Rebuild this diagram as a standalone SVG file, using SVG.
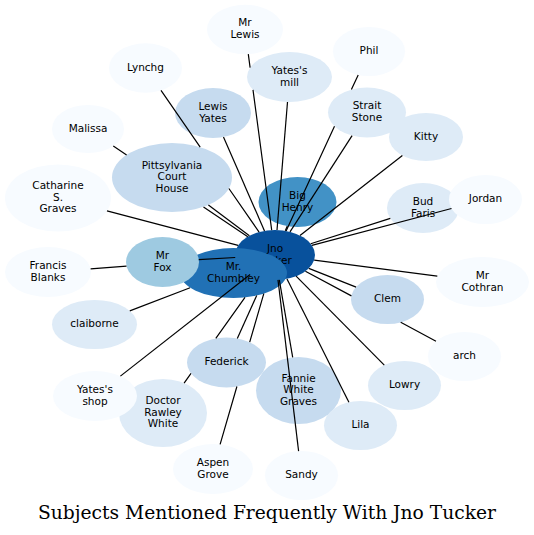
<svg xmlns="http://www.w3.org/2000/svg" width="534" height="535" viewBox="0 0 534 535">
<style>
  .node text { font-family: "DejaVu Sans", sans-serif; font-size: 10.5px; fill: #000; text-anchor: middle; }
  .c0 { fill: #f7fbff; }
  .c1 { fill: #deebf7; }
  .c2 { fill: #c6dbef; }
  .c3 { fill: #9ecae1; }
  .c4 { fill: #4292c6; }
  .c5 { fill: #2171b5; }
  .c6 { fill: #08519c; }
  #connectors path { fill: none; stroke: #000; stroke-width: 1.2; }
  .title { font-family: "DejaVu Serif", serif; font-size: 18.3px; fill: #000; text-anchor: middle; }
</style>
<rect width="534" height="535" fill="#fff"/>
<g id="nodes">
  <g id="node-mr-lewis" class="node"><ellipse class="c0" cx="245" cy="29.5" rx="38" ry="24.7"/><text x="245" y="26.4">Mr</text><text x="245" y="38.1">Lewis</text></g>
  <g id="node-phil" class="node"><ellipse class="c0" cx="369" cy="51.5" rx="36" ry="24.5"/><text x="369" y="54.2">Phil</text></g>
  <g id="node-lynchg" class="node"><ellipse class="c0" cx="145.5" cy="68" rx="36.5" ry="24.7"/><text x="145.5" y="70.7">Lynchg</text></g>
  <g id="node-yates-mill" class="node"><ellipse class="c1" cx="289.5" cy="77" rx="42.5" ry="25"/><text x="289.5" y="73.9">Yates's</text><text x="289.5" y="85.6">mill</text></g>
  <g id="node-lewis-yates" class="node"><ellipse class="c2" cx="213" cy="113" rx="38" ry="25"/><text x="213" y="109.9">Lewis</text><text x="213" y="121.6">Yates</text></g>
  <g id="node-strait-stone" class="node"><ellipse class="c1" cx="367" cy="112.5" rx="39" ry="25"/><text x="367" y="109.4">Strait</text><text x="367" y="121.1">Stone</text></g>
  <g id="node-kitty" class="node"><ellipse class="c1" cx="426" cy="137" rx="37" ry="24"/><text x="426" y="139.7">Kitty</text></g>
  <g id="node-malissa" class="node"><ellipse class="c0" cx="88" cy="129" rx="36" ry="24"/><text x="88" y="131.7">Malissa</text></g>
  <g id="node-pittsylvania" class="node"><ellipse class="c2" cx="172" cy="177.5" rx="60" ry="34.5"/><text x="172" y="168.5">Pittsylvania</text><text x="172" y="180.2">Court</text><text x="172" y="191.9">House</text></g>
  <g id="node-catharine" class="node"><ellipse class="c0" cx="58" cy="198" rx="53" ry="33.5"/><text x="58" y="189">Catharine</text><text x="58" y="200.7">S.</text><text x="58" y="212.4">Graves</text></g>
  <g id="node-big-henry" class="node"><ellipse class="c4" cx="297.5" cy="202" rx="39" ry="25"/><text x="297.5" y="198.9">Big</text><text x="297.5" y="210.6">Henry</text></g>
  <g id="node-bud-faris" class="node"><ellipse class="c1" cx="423" cy="208" rx="36" ry="25"/><text x="423" y="204.9">Bud</text><text x="423" y="216.6">Faris</text></g>
  <g id="node-jordan" class="node"><ellipse class="c0" cx="485.5" cy="199.5" rx="36.5" ry="24.5"/><text x="485.5" y="202.2">Jordan</text></g>
  <g id="node-jno-tucker" class="node"><ellipse class="c6" cx="275" cy="255" rx="40" ry="25"/><text x="275" y="251.9">Jno</text><text x="275" y="263.6">Tucker</text></g>
  <g id="node-mr-chumbley" class="node"><ellipse class="c5" cx="233.5" cy="273" rx="53.5" ry="25"/><text x="233.5" y="269.9">Mr.</text><text x="233.5" y="281.6">Chumbley</text></g>
  <g id="node-mr-fox" class="node"><ellipse class="c3" cx="162.5" cy="262" rx="36.5" ry="25"/><text x="162.5" y="258.9">Mr</text><text x="162.5" y="270.6">Fox</text></g>
  <g id="node-francis-blanks" class="node"><ellipse class="c0" cx="48" cy="272" rx="43" ry="25"/><text x="48" y="268.9">Francis</text><text x="48" y="280.6">Blanks</text></g>
  <g id="node-mr-cothran" class="node"><ellipse class="c0" cx="482.5" cy="282" rx="46.5" ry="25"/><text x="482.5" y="278.9">Mr</text><text x="482.5" y="290.6">Cothran</text></g>
  <g id="node-clem" class="node"><ellipse class="c2" cx="387.5" cy="299.5" rx="36.5" ry="24.5"/><text x="387.5" y="302.2">Clem</text></g>
  <g id="node-claiborne" class="node"><ellipse class="c1" cx="94.5" cy="324.5" rx="42.5" ry="24.5"/><text x="94.5" y="327.2">claiborne</text></g>
  <g id="node-arch" class="node"><ellipse class="c0" cx="464.5" cy="356.5" rx="36.5" ry="24.5"/><text x="464.5" y="359.2">arch</text></g>
  <g id="node-federick" class="node"><ellipse class="c2" cx="226.5" cy="362.5" rx="39.5" ry="25"/><text x="226.5" y="365.2">Federick</text></g>
  <g id="node-fannie" class="node"><ellipse class="c2" cx="298.5" cy="390.5" rx="42.5" ry="33.5"/><text x="298.5" y="381.5">Fannie</text><text x="298.5" y="393.2">White</text><text x="298.5" y="404.9">Graves</text></g>
  <g id="node-lowry" class="node"><ellipse class="c1" cx="404.5" cy="385.5" rx="36.5" ry="24.5"/><text x="404.5" y="388.2">Lowry</text></g>
  <g id="node-doctor" class="node"><ellipse class="c1" cx="163" cy="413" rx="44" ry="34"/><text x="163" y="404">Doctor</text><text x="163" y="415.7">Rawley</text><text x="163" y="427.4">White</text></g>
  <g id="node-yates-shop" class="node"><ellipse class="c0" cx="95" cy="396" rx="42" ry="25"/><text x="95" y="392.9">Yates's</text><text x="95" y="404.6">shop</text></g>
  <g id="node-lila" class="node"><ellipse class="c1" cx="360.5" cy="425.5" rx="36.5" ry="24.5"/><text x="360.5" y="428.2">Lila</text></g>
  <g id="node-aspen-grove" class="node"><ellipse class="c0" cx="213" cy="469" rx="40" ry="25"/><text x="213" y="465.9">Aspen</text><text x="213" y="477.6">Grove</text></g>
  <g id="node-sandy" class="node"><ellipse class="c0" cx="301.5" cy="475.5" rx="36.5" ry="24.5"/><text x="301.5" y="478.2">Sandy</text></g>
</g>
<g id="connectors">
  <path id="e-mr-lewis" d="M248.3,54.1 L250.1,67.6 M253,89.8 L271.7,230.1"/>
  <path id="e-yates-mill" d="M287.5,102 L277,230"/>
  <path id="e-phil" d="M358.2,74.9 L351.4,89.6 M334.5,126.3 L286.1,231"/>
  <path id="e-lynchg" d="M161,90.4 L200.2,147.1 M228.9,188.5 L259.1,232.1"/>
  <path id="e-lewis-yates" d="M223.5,137 L264.5,230.9"/>
  <path id="e-strait-stone" d="M352.1,135.6 L290,231.8"/>
  <path id="e-kitty" d="M402.4,155.5 L300,235.5"/>
  <path id="e-malissa" d="M113.3,146.1 L126.6,155.1 M203.5,206.9 L247.8,236.7"/>
  <path id="e-pittsylvania" d="M208.4,204.9 L249.4,235.8"/>
  <path id="e-catharine" d="M107,210.9 L238.1,245.3"/>
  <path id="e-big-henry" d="M287.3,226.1 L285.3,230.8"/>
  <path id="e-bud-faris" d="M390.3,218.4 L310.7,243.7"/>
  <path id="e-jordan" d="M451.5,208.5 L311.9,245.3"/>
  <path id="e-mr-fox" d="M198.8,259.7 L235.2,257.5"/>
  <path id="e-francis-blanks" d="M90.6,268.8 L126.5,266.1"/>
  <path id="e-mr-cothran" d="M437.3,276.1 L314.2,260.1"/>
  <path id="e-clem" d="M356.1,287.1 L308.8,268.4"/>
  <path id="e-arch" d="M436,341.2 L400.7,322.3 M351.4,295.9 L305.4,271.3"/>
  <path id="e-claiborne" d="M129.8,310.9 L190.1,287.7"/>
  <path id="e-federick" d="M237.3,338.5 L256.7,295.5"/>
  <path id="e-fannie" d="M292.7,357.3 L279.3,279.9"/>
  <path id="e-sandy" d="M298.6,451.1 L278,279.9"/>
  <path id="e-lowry" d="M384.3,365.1 L296.1,276.2"/>
  <path id="e-lila" d="M348.9,402.3 L287,278.9"/>
  <path id="e-yates-shop" d="M120.4,376.1 L250.1,274.5"/>
  <path id="e-doctor" d="M184.1,383.2 L191,373.4 M215.8,338.4 L245,297.4"/>
  <path id="e-aspen-grove" d="M220.1,444.4 L236.9,386.5 M249.7,342.2 L263.8,293.6"/>
</g>
<text class="title" x="267" y="519" textLength="458" lengthAdjust="spacingAndGlyphs">Subjects Mentioned Frequently With Jno Tucker</text>
</svg>
